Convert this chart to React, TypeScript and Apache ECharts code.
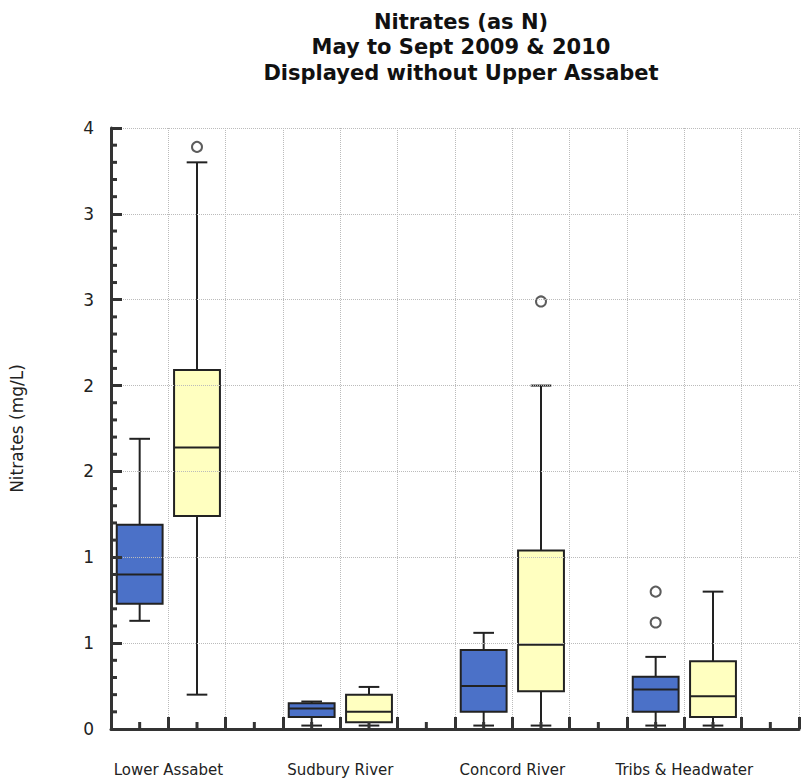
import React, { useEffect, useRef } from "react";
import * as echarts from "echarts";

const titleLines = ["Nitrates (as N)", "May to Sept 2009 & 2010", "Displayed without Upper Assabet"];
const groups = ["Lower Assabet", "Sudbury River", "Concord River", "Tribs & Headwater"];
// [low whisker, Q1, median, Q3, high whisker]
const blueStats = [
  [0.63, 0.73, 0.9, 1.19, 1.69],
  [0.02, 0.07, 0.12, 0.15, 0.16],
  [0.02, 0.1, 0.25, 0.46, 0.56],
  [0.02, 0.1, 0.23, 0.305, 0.42],
];
const yellowStats = [
  [0.2, 1.24, 1.64, 2.09, 3.3],
  [0.02, 0.04, 0.1, 0.2, 0.245],
  [0.02, 0.22, 0.49, 1.04, 2.0],
  [0.02, 0.07, 0.19, 0.395, 0.8],
];
const blueOutliers = [[], [], [], [0.62, 0.8]];
const yellowOutliers = [[3.39], [], [2.49], []];
const yTicks = [0, 0.5, 1, 1.5, 2, 2.5, 3, 3.5];
const xMinorTicks = [0.5, 1.5, 2.5, 3.5, 4.5, 5.5, 6.5, 7.5, 8.5, 9.5, 10.5, 11.5];
const yMinorTicks = [
  0.1, 0.2, 0.3, 0.4, 0.6, 0.7, 0.8, 0.9, 1.1, 1.2, 1.3, 1.4, 1.6, 1.7, 1.8, 1.9,
  2.1, 2.2, 2.3, 2.4, 2.6, 2.7, 2.8, 2.9, 3.1, 3.2, 3.3, 3.4,
];

const FONT = "DejaVu Sans";
const BLUE = "#4b71c8";
const YELLOW = "#ffffc0";
const DARK = "#222";
const AXIS = "#333";

function boxRender(fill: string) {
  return (params: any, api: any) => {
    const x = api.value(0);
    const lo = api.coord([x, api.value(1)]);
    const q1 = api.coord([x, api.value(2)]);
    const md = api.coord([x, api.value(3)]);
    const q3 = api.coord([x, api.value(4)]);
    const hi = api.coord([x, api.value(5)]);
    const unit = api.size([1, 0])[0];
    const hb = unit * 0.4;
    const hc = unit * 0.18;
    const cx = lo[0];
    const ls = { stroke: DARK, lineWidth: 2 };
    return {
      type: "group",
      children: [
        { type: "line", shape: { x1: cx, y1: hi[1], x2: cx, y2: q3[1] }, style: ls },
        { type: "line", shape: { x1: cx, y1: q1[1], x2: cx, y2: lo[1] }, style: ls },
        { type: "line", shape: { x1: cx - hc, y1: hi[1], x2: cx + hc, y2: hi[1] }, style: ls },
        { type: "line", shape: { x1: cx - hc, y1: lo[1], x2: cx + hc, y2: lo[1] }, style: ls },
        {
          type: "rect",
          shape: { x: cx - hb, y: q3[1], width: hb * 2, height: q1[1] - q3[1] },
          style: { fill, stroke: DARK, lineWidth: 2 },
        },
        { type: "line", shape: { x1: cx - hb, y1: md[1], x2: cx + hb, y2: md[1] }, style: ls },
      ],
    };
  };
}

export default function App() {
  const ref = useRef<HTMLDivElement>(null);
  useEffect(() => {
    if (!ref.current) return;
    const chart = echarts.init(ref.current, undefined, { renderer: "svg" });
    const blueData = blueStats.map((s, g) => [g * 3 + 0.5, ...s]);
    const yellowData = yellowStats.map((s, g) => [g * 3 + 1.5, ...s]);
    const outData: number[][] = [];
    blueOutliers.forEach((arr, g) => arr.forEach((v) => outData.push([g * 3 + 0.5, v])));
    yellowOutliers.forEach((arr, g) => arr.forEach((v) => outData.push([g * 3 + 1.5, v])));

    chart.setOption({
      animation: false,
      backgroundColor: "#fff",
      title: {
        text: titleLines.join("\n"),
        left: 456,
        top: 4,
        textAlign: "center",
        textStyle: { fontFamily: FONT, fontSize: 21, fontWeight: "bold", color: "#111", lineHeight: 25.5 },
      },
      grid: { left: 111, right: -7, top: 128, bottom: 53 },
      xAxis: {
        type: "value",
        min: 0,
        max: 12,
        interval: 1,
        z: 5,
        axisLine: { show: true, onZero: false, lineStyle: { color: AXIS, width: 3 } },
        axisTick: { show: true, inside: true, length: 12, lineStyle: { color: AXIS, width: 3 } },
        splitLine: { show: true, lineStyle: { color: "#bbb", type: "dotted", width: 1 } },
        axisLabel: {
          margin: 33,
          fontFamily: FONT,
          fontSize: 15,
          color: DARK,
          formatter: (v: number) => {
            const i = Math.round(v);
            return i % 3 === 1 ? groups[(i - 1) / 3] ?? "" : "";
          },
        },
      },
      yAxis: {
        type: "value",
        min: yTicks[0],
        max: yTicks[yTicks.length - 1],
        interval: 0.5,
        z: 5,
        name: "Nitrates (mg/L)",
        nameLocation: "middle",
        nameGap: 86,
        nameTextStyle: { fontFamily: FONT, fontSize: 17, color: DARK },
        axisLine: { show: true, lineStyle: { color: AXIS, width: 3 } },
        axisTick: { show: true, inside: true, length: 11, lineStyle: { color: AXIS, width: 3 } },
        splitLine: { show: true, lineStyle: { color: "#bbb", type: "dotted", width: 1 } },
        axisLabel: {
          margin: 17,
          fontFamily: FONT,
          fontSize: 17,
          color: DARK,
          formatter: (v: number) => String(Math.round(v)),
        },
      },
      series: [
        {
          type: "custom",
          renderItem: boxRender(BLUE),
          data: blueData,
          encode: { x: 0, y: [1, 2, 3, 4, 5] },
          z: 3,
        },
        {
          type: "custom",
          renderItem: boxRender(YELLOW),
          data: yellowData,
          encode: { x: 0, y: [1, 2, 3, 4, 5] },
          z: 3,
        },
        {
          type: "scatter",
          data: outData,
          symbol: "circle",
          symbolSize: 10,
          itemStyle: { color: "#fff", borderColor: "#333", borderWidth: 2 },
          z: 4,
        },
        {
          type: "custom",
          silent: true,
          clip: false,
          z: 6,
          data: xMinorTicks.map((v) => [v, 0]),
          encode: { x: 0, y: 1 },
          renderItem: (params: any, api: any) => {
            const p = api.coord([api.value(0), 0]);
            return {
              type: "line",
              shape: { x1: p[0], y1: p[1], x2: p[0], y2: p[1] - 7 },
              style: { stroke: AXIS, lineWidth: 3 },
            };
          },
        },
        {
          type: "custom",
          silent: true,
          clip: false,
          z: 6,
          data: yMinorTicks.map((v) => [0, v]),
          encode: { x: 0, y: 1 },
          renderItem: (params: any, api: any) => {
            const p = api.coord([0, api.value(1)]);
            return {
              type: "line",
              shape: { x1: p[0], y1: p[1], x2: p[0] + 6, y2: p[1] },
              style: { stroke: AXIS, lineWidth: 3 },
            };
          },
        },
      ],
    });
    return () => chart.dispose();
  }, []);
  return (
    <div style={{ position: "fixed", left: 0, top: 0, width: 802, height: 782, background: "#fff" }}>
      <div ref={ref} style={{ width: 802, height: 782 }} />
    </div>
  );
}
